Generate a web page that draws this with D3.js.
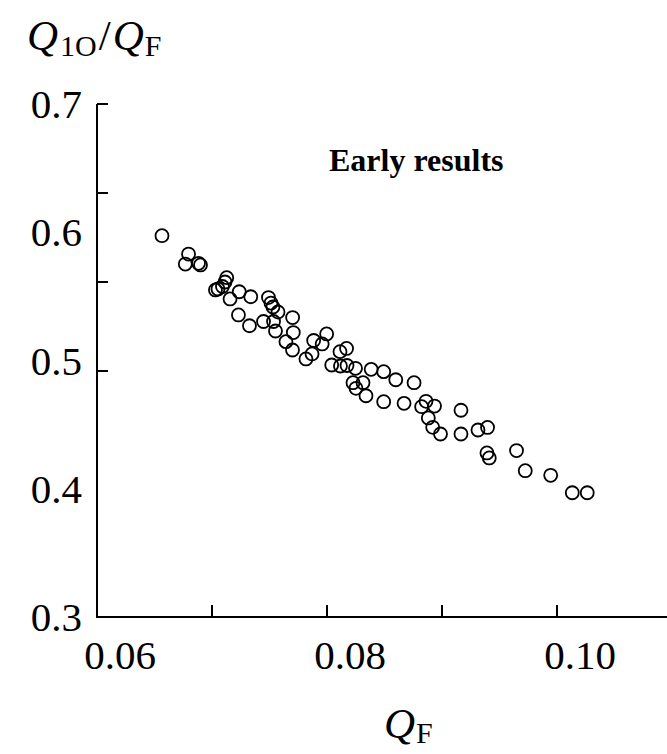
<!DOCTYPE html>
<html lang="en">
<head>
<meta charset="UTF-8">
<title>Early results</title>
<style>
    body { margin: 0; background: #fff; }
    svg { display: block; }
    text { font-family: 'Liberation Serif', 'DejaVu Serif', serif; fill: #000; }
</style>
<script src="https://d3js.org/d3.v7.min.js"></script>
</head>
<body>
<svg id="chart" width="667" height="754"></svg>
<script>
// Q_F values and Q_1O/Q_F ratios
const qF = [
    0.06565, 0.06796, 0.06768, 0.06883, 0.06900,
    0.07030, 0.07052, 0.07091, 0.07113, 0.07128,
    0.07157, 0.07237, 0.07337, 0.07230, 0.07326,
    0.07491, 0.07513, 0.07530, 0.07574, 0.07448,
    0.07535, 0.07552, 0.07701, 0.07707, 0.07643,
    0.07700, 0.07817, 0.07870, 0.07884, 0.07958,
    0.07997, 0.08041, 0.08117, 0.08174, 0.08248,
    0.08113, 0.08170, 0.08384, 0.08493, 0.08598,
    0.08757, 0.08226, 0.08313, 0.08252, 0.08339,
    0.08493, 0.08670, 0.08861, 0.08935, 0.08823,
    0.08881, 0.08919, 0.08987, 0.09165, 0.09165,
    0.09313, 0.09396, 0.09391, 0.09411, 0.09648,
    0.09724, 0.09945, 0.10133, 0.10263
];
const ratio = [
    0.5973, 0.5830, 0.5752, 0.5758, 0.5745,
    0.5550, 0.5558, 0.5577, 0.5612, 0.5646,
    0.5480, 0.5536, 0.5497, 0.5355, 0.5271,
    0.5491, 0.5448, 0.5417, 0.5378, 0.5304,
    0.5304, 0.5230, 0.5335, 0.5218, 0.5147,
    0.5082, 0.5012, 0.5051, 0.5156, 0.5129,
    0.5207, 0.4965, 0.4957, 0.4961, 0.4939,
    0.5069, 0.5094, 0.4931, 0.4913, 0.4850,
    0.4827, 0.4827, 0.4827, 0.4783, 0.4725,
    0.4679, 0.4666, 0.4682, 0.4645, 0.4640,
    0.4552, 0.4479, 0.4427, 0.4612, 0.4427,
    0.4458, 0.4478, 0.4279, 0.4240, 0.4298,
    0.4141, 0.4105, 0.3969, 0.3969
];

const xTickLabels = [0.06, 0.08, 0.10];
const xTickMarks = [0.07, 0.08, 0.09, 0.10];
const yTickLabels = [0.3, 0.4, 0.5, 0.6, 0.7];
const yTickMarks = [0.7, 0.6306, 0.5612, 0.4918];

const svg = d3.select("#chart");
const width = +svg.attr("width");

const x = d3.scaleLinear().domain([0.06, 0.10]).range([97, 557]);
const y = d3.scaleLinear().domain([0.3, 0.7]).range([617, 104]);

// axes lines
svg.append("line")
    .attr("x1", x(0.06)).attr("y1", y(0.7))
    .attr("x2", x(0.06)).attr("y2", y(0.3))
    .attr("stroke", "#000").attr("stroke-width", 2);
svg.append("line")
    .attr("x1", x(0.06) - 1).attr("y1", y(0.3))
    .attr("x2", width).attr("y2", y(0.3))
    .attr("stroke", "#000").attr("stroke-width", 2);

// tick marks (drawn inward)
svg.selectAll(".ytick").data(yTickMarks).enter().append("line")
    .attr("x1", x(0.06)).attr("x2", x(0.06) + 11)
    .attr("y1", d => y(d)).attr("y2", d => y(d))
    .attr("stroke", "#000").attr("stroke-width", 2);
svg.selectAll(".xtick").data(xTickMarks).enter().append("line")
    .attr("x1", d => x(d)).attr("x2", d => x(d))
    .attr("y1", y(0.3)).attr("y2", y(0.3) - 12)
    .attr("stroke", "#000").attr("stroke-width", 2);

// tick labels
svg.selectAll(".ylab").data(yTickLabels).enter().append("text")
    .attr("x", 82)
    .attr("y", d => y(d) + 14)
    .attr("text-anchor", "end")
    .attr("font-size", 41)
    .text(d => d.toFixed(1));
svg.selectAll(".xlab").data(xTickLabels).enter().append("text")
    .attr("x", d => x(d) + 23)
    .attr("y", 669)
    .attr("text-anchor", "middle")
    .attr("font-size", 41)
    .text(d => d.toFixed(2));

// axis titles
const yTitle = svg.append("text").attr("x", 27).attr("y", 50).attr("font-size", 43);
yTitle.append("tspan").attr("font-style", "italic").text("Q");
yTitle.append("tspan").attr("font-size", 30).attr("dx", 2).attr("dy", 6).text("1O");
yTitle.append("tspan").attr("dx", 2).attr("dy", -6).text("/");
yTitle.append("tspan").attr("dx", 2).attr("font-style", "italic").text("Q");
yTitle.append("tspan").attr("font-size", 30).attr("dx", 1).attr("dy", 6).text("F");

const xTitle = svg.append("text").attr("x", 384).attr("y", 738).attr("font-size", 43);
xTitle.append("tspan").attr("font-style", "italic").text("Q");
xTitle.append("tspan").attr("font-size", 30).attr("dx", 1).attr("dy", 5).text("F");

svg.append("text")
    .attr("x", 329).attr("y", 171)
    .attr("font-size", 32)
    .attr("font-weight", "bold")
    .text("Early results");

// points
svg.selectAll(".pt").data(qF).enter().append("circle")
    .attr("cx", d => x(d))
    .attr("cy", (d, i) => y(ratio[i]))
    .attr("r", 6.5)
    .attr("fill", "none")
    .attr("stroke", "#000")
    .attr("stroke-width", 1.8);
</script>
</body>
</html>
